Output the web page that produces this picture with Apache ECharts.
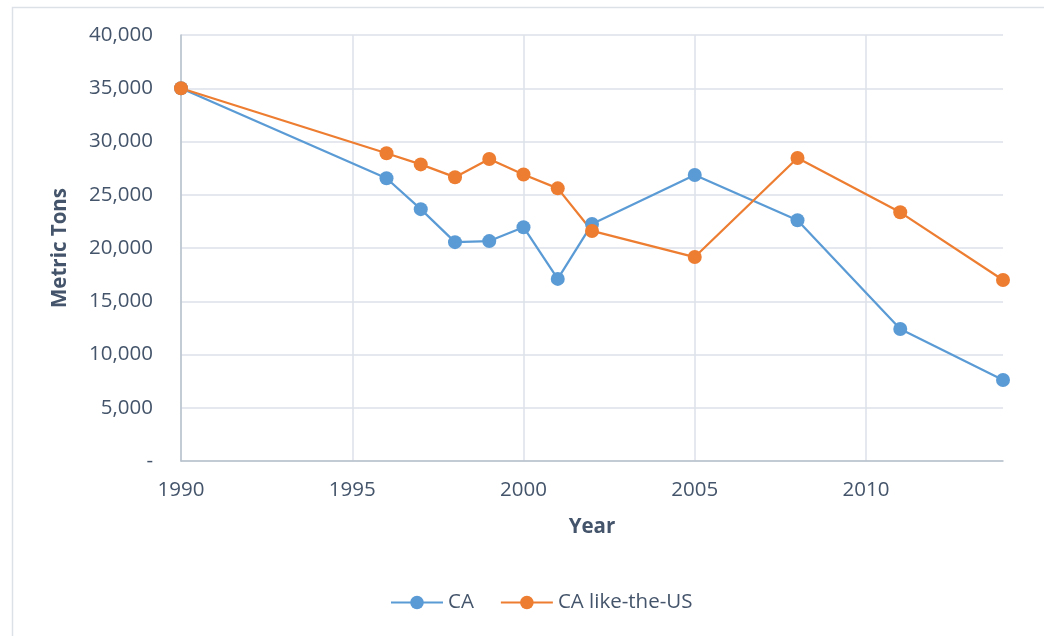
<!DOCTYPE html>
<html>
<head>
<meta charset="utf-8">
<script src="https://cdn.jsdelivr.net/npm/echarts@6/dist/echarts.min.js"></script>
<style>html,body{margin:0;padding:0;background:#fff}#c{width:1044px;height:636px}</style>
</head>
<body>
<div id="c"></div>
<script>
const years = [1990, 1996, 1997, 1998, 1999, 2000, 2001, 2002, 2005, 2008, 2011, 2014];
const caValues = [35000, 26550, 23650, 20550, 20650, 21950, 17100, 22250, 26850, 22600, 12400, 7600];
const caLikeUSValues = [35000, 28900, 27850, 26650, 28350, 26900, 25600, 21600, 19150, 28450, 23350, 17000];
const seriesNames = ['CA', 'CA like-the-US'];
const xAxisTitle = 'Year';
const yAxisTitle = 'Metric Tons';

const FONT = '"Open Sans", sans-serif';
const TXT = '#44546A';
const chart = echarts.init(document.getElementById('c'), null, {renderer: 'canvas'});
const pairs = (vals) => years.map((y, i) => [y, vals[i]]);
chart.setOption({
  animation: false,
  backgroundColor: '#fff',
  textStyle: {fontFamily: FONT, color: TXT},
  graphic: [{
    type: 'rect', left: 10, top: 5, z: -1,
    shape: {x: 0, y: 0, width: 1100, height: 700},
    style: {fill: 'none', stroke: '#DCE1E8', lineWidth: 1.5}
  }],
  grid: {left: 181, right: 41, top: 35, bottom: 175, containLabel: false},
  legend: {
    left: 385, top: 587, itemWidth: 52, itemHeight: 17, itemGap: 26,
    textStyle: {fontFamily: FONT, fontSize: 20.5, color: TXT},
    data: seriesNames
  },
  xAxis: {
    type: 'value', min: 1990, max: 2014, interval: 5,
    name: xAxisTitle, nameLocation: 'middle', nameGap: 56,
    nameTextStyle: {fontFamily: FONT, fontSize: 20.5, fontWeight: 'bold', color: TXT},
    axisLine: {lineStyle: {color: '#B7C0CC', width: 1.5}},
    axisTick: {show: false},
    axisLabel: {fontFamily: FONT, fontSize: 20.5, color: TXT, margin: 19,
      formatter: v => (v % 5 === 0 ? String(v) : '')},
    splitLine: {show: true, showMaxLine: false, lineStyle: {color: '#DDE2EA', width: 1.5}}
  },
  yAxis: {
    type: 'value', min: 0, max: 40000, interval: 5000,
    name: yAxisTitle, nameLocation: 'middle', nameGap: 110,
    nameTextStyle: {fontFamily: FONT, fontSize: 20.5, fontWeight: 'bold', color: TXT},
    axisLine: {show: true, lineStyle: {color: '#B7C0CC', width: 1.5}},
    axisTick: {show: false},
    axisLabel: {fontFamily: FONT, fontSize: 20.5, color: TXT, margin: 28,
      formatter: v => (v === 0 ? '-' : v.toLocaleString('en-US'))},
    splitLine: {show: true, lineStyle: {color: '#DDE2EA', width: 1.5}}
  },
  series: [
    {name: seriesNames[0], type: 'line', data: pairs(caValues), symbol: 'circle', symbolSize: 14,
     color: '#5B9BD5', lineStyle: {width: 2.25, color: '#5B9BD5'}, itemStyle: {color: '#5B9BD5'}, clip: false},
    {name: seriesNames[1], type: 'line', data: pairs(caLikeUSValues), symbol: 'circle', symbolSize: 14,
     color: '#ED7D31', lineStyle: {width: 2.25, color: '#ED7D31'}, itemStyle: {color: '#ED7D31'}, clip: false}
  ]
});
</script>
</body>
</html>
